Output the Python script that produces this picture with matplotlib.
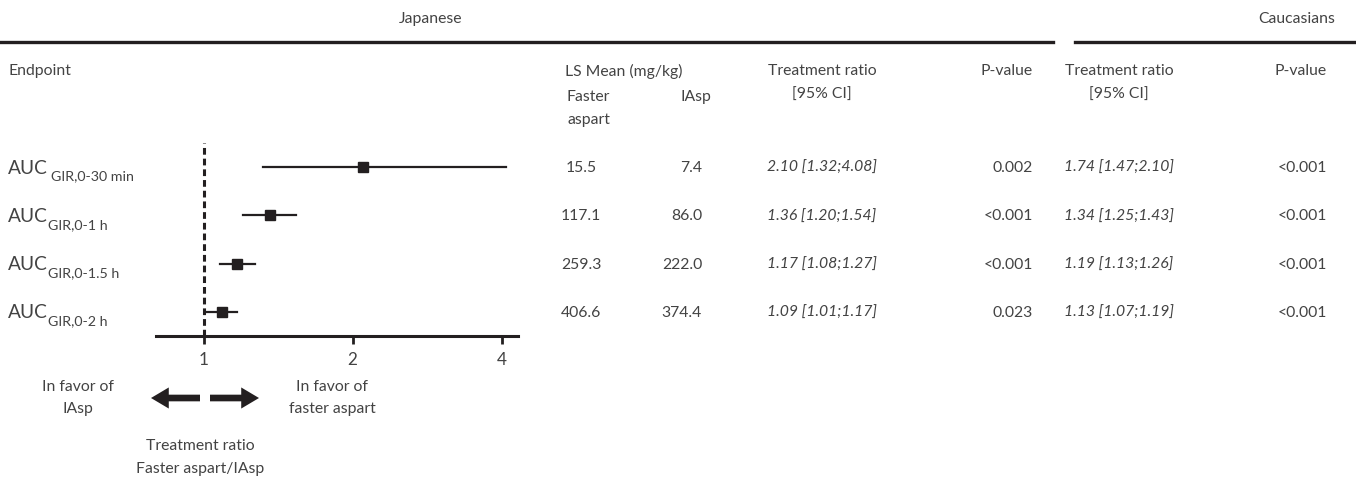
import numpy as np
import matplotlib.pyplot as plt
from matplotlib.patches import FancyArrowPatch
from matplotlib.transforms import blended_transform_factory

plt.rcParams['font.family'] = ['Lato', 'DejaVu Sans']

# endpoints and results
endpoints = ['GIR,0-30 min', 'GIR,0-1 h', 'GIR,0-1.5 h', 'GIR,0-2 h']
ratio = [2.10, 1.36, 1.17, 1.09]
ci_low = [1.32, 1.20, 1.08, 1.01]
ci_high = [4.08, 1.54, 1.27, 1.17]
mean_faster = ['15.5', '117.1', '259.3', '406.6']
mean_iasp = ['7.4', '86.0', '222.0', '374.4']
p_jp = ['0.002', '<0.001', '<0.001', '0.023']
cau_ratio = [1.74, 1.34, 1.19, 1.13]
cau_low = [1.47, 1.25, 1.13, 1.07]
cau_high = [2.10, 1.43, 1.26, 1.19]
p_cau = ['<0.001', '<0.001', '<0.001', '<0.001']
ticks = [1, 2, 4]

W, H = 1356, 481
txt = '#434343'
ink = '#231f20'
fs = 11.3

fig = plt.figure(figsize=(W / 100, H / 100), dpi=100)


def fx(px):
    return px / W


def fy(py):
    return 1 - py / H


def put(x, y, s, **kw):
    kw.setdefault('fontsize', fs)
    kw.setdefault('color', txt)
    kw.setdefault('va', 'center')
    return fig.text(x, y, s, **kw)


# forest plot axes, log2 scale
ax_l, ax_r, ax_t, ax_b = 156, 518, 144, 337
ax = fig.add_axes([fx(ax_l), fy(ax_b), fx(ax_r - ax_l), (ax_b - ax_t) / H])
ax.set_xscale('log', base=2)
ax.set_xlim(2 ** ((ax_l - 203.5) / 149), 2 ** ((ax_r - 203.5) / 149))
rows = np.arange(len(endpoints))
ax.set_ylim(3.5, -0.5)
ax.axvline(1, color=ink, lw=2.2, ls=(0, (2.2, 1.3)), zorder=1)
for i in rows:
    ax.plot([ci_low[i], ci_high[i]], [i, i], color=ink, lw=1.6, zorder=2)
    ax.plot(ratio[i], i, marker='s', ms=7.5, color=ink, zorder=3)
for s in ['top', 'right', 'left']:
    ax.spines[s].set_visible(False)
ax.spines['bottom'].set_linewidth(2.2)
ax.spines['bottom'].set_color(ink)
ax.set_yticks([])
ax.set_xticks(ticks)
ax.set_xticklabels([str(t) for t in ticks])
ax.xaxis.set_minor_locator(plt.NullLocator())
ax.tick_params(axis='x', length=6, width=2, color=ink, labelsize=fs + 1, labelcolor=txt, pad=5)
ax.patch.set_alpha(0)

# row-aligned text: x in figure pixels, y in data rows
tr = blended_transform_factory(fig.transFigure, ax.transData)

for i in rows:
    put(fx(8), i, 'AUC', transform=tr, fontsize=fs + 2.5)
    sx = 51 if i == 0 else 48
    ax.annotate(endpoints[i], xy=(fx(sx), i), xycoords=tr, xytext=(0, -6),
                textcoords='offset points', fontsize=fs - 1, color=txt, va='center')
    put(fx(581), i, mean_faster[i], transform=tr, ha='center')
    put(fx(702), i, mean_iasp[i], transform=tr, ha='right')
    put(fx(822), i, '%.2f [%.2f;%.2f]' % (ratio[i], ci_low[i], ci_high[i]), transform=tr,
        ha='center', style='italic')
    put(fx(1033), i, p_jp[i], transform=tr, ha='right')
    put(fx(1119), i, '%.2f [%.2f;%.2f]' % (cau_ratio[i], cau_low[i], cau_high[i]), transform=tr,
        ha='center', style='italic')
    put(fx(1327), i, p_cau[i], transform=tr, ha='right')

# headers
put(fx(431), fy(19), 'Japanese', ha='center')
put(fx(1297), fy(19), 'Caucasians', ha='center')
fig.add_artist(plt.Line2D([0, fx(1053)], [fy(43), fy(43)], color=ink, lw=2.4))
fig.add_artist(plt.Line2D([fx(1075), 1], [fy(43), fy(43)], color=ink, lw=2.4))

put(fx(8), fy(71), 'Endpoint')
put(fx(565), fy(71), 'LS Mean (mg/kg)')
put(fx(567), fy(97), 'Faster')
put(fx(567), fy(120), 'aspart')
put(fx(680), fy(97), 'IAsp')
for cx, pr in [(822, 1033), (1119, 1327)]:
    put(fx(cx), fy(71), 'Treatment ratio', ha='center')
    put(fx(cx), fy(95), '[95% CI]', ha='center')
    put(fx(pr), fy(71), 'P-value', ha='right')

# direction legend under the axis
put(fx(78), fy(387), 'In favor of', ha='center')
put(fx(78), fy(409), 'IAsp', ha='center')
put(fx(332), fy(387), 'In favor of', ha='center')
put(fx(332), fy(409), 'faster aspart', ha='center')
arrow = dict(arrowstyle='simple,head_length=0.8,head_width=0.95,tail_width=0.3',
             color=ink, lw=0, mutation_scale=16, shrinkA=0, shrinkB=0,
             transform=fig.transFigure)
fig.add_artist(FancyArrowPatch((fx(200), fy(399)), (fx(151), fy(399)), **arrow))
fig.add_artist(FancyArrowPatch((fx(210), fy(399)), (fx(259), fy(399)), **arrow))
put(fx(200), fy(446), 'Treatment ratio', ha='center')
put(fx(200), fy(469), 'Faster aspart/IAsp', ha='center')

fig.savefig('out.png', dpi=100)
